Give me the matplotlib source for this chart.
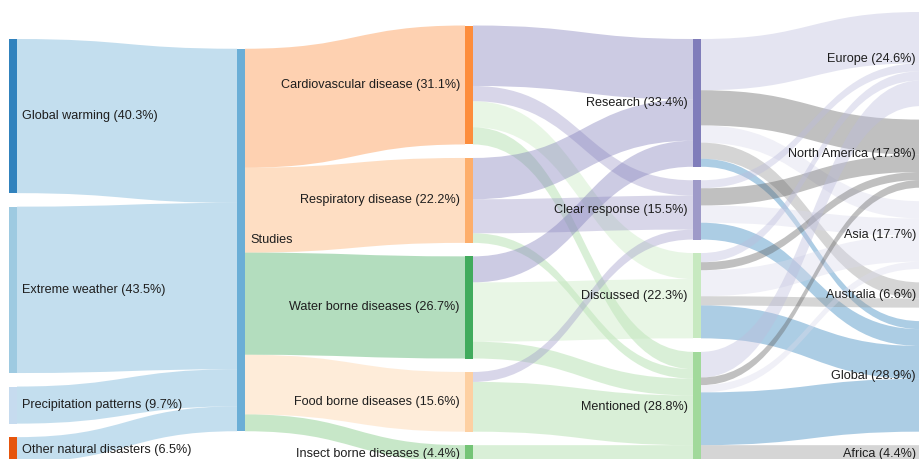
import matplotlib
matplotlib.use("Agg")
import matplotlib.pyplot as plt
from matplotlib.path import Path
from matplotlib.patches import PathPatch, Rectangle

# ---------------- data ----------------
drivers = ["Global warming", "Extreme weather", "Precipitation patterns", "Other natural disasters"]
driver_values = [40.3, 43.5, 9.7, 6.5]

hub = ["Studies"]

diseases = ["Cardiovascular disease", "Respiratory disease", "Water borne diseases",
            "Food borne diseases", "Insect borne diseases"]
disease_values = [31.1, 22.2, 26.7, 15.6, 4.4]

responses = ["Research", "Clear response", "Discussed", "Mentioned"]
# rows: diseases, cols: responses
disease_to_response = [
    [15.8, 4.0, 6.8, 4.5],
    [10.8, 8.9, 0.0, 2.5],
    [6.8, 0.0, 15.5, 4.4],
    [0.0, 2.6, 0.0, 13.0],
    [0.0, 0.0, 0.0, 4.4],
]

regions = ["Europe", "North America", "Asia", "Australia", "Global", "Africa"]
# rows: responses, cols: regions
response_to_region = [
    [13.4, 9.2, 4.5, 4.2, 2.1, 0.0],
    [2.1, 4.5, 4.5, 0.0, 4.4, 0.0],
    [2.4, 2.1, 6.8, 2.4, 8.6, 0.0],
    [6.7, 2.0, 1.9, 0.0, 13.8, 4.4],
]

driver_colors = ["#3182bd", "#9ecae1", "#c6dbef", "#e6550d"]
hub_colors = ["#6baed6"]
disease_colors = ["#fd8d3c", "#fdae6b", "#41ab5d", "#fdd0a2", "#74c476"]
response_colors = ["#807dba", "#9e9ac8", "#c7e9c0", "#a1d99b"]
region_colors = ["#bcbddc", "#636363", "#dadaeb", "#969696", "#3182bd", "#969696"]

# ---------------- layout ----------------
W, H = 920, 459
K = 3.825          # px per percent
PAD = 13.5         # px between nodes
BOTTOM = 462.0     # bottom of node stacks (px)
HUB_CENTER = 240.0
NODE_W = 8
COL_X = [9, 237, 465, 693, 921]
LINK_ALPHA = 0.4
FS = 9.1

fig = plt.figure(figsize=(W / 100, H / 100), dpi=100)
ax = fig.add_axes([0, 0, 1, 1])
ax.set_xlim(0, W)
ax.set_ylim(H, 0)
ax.axis("off")

def stack(values, single_center=None):
    hs = [v * K for v in values]
    if len(values) == 1:
        y0 = single_center - hs[0] / 2
        return [(y0, y0 + hs[0])]
    total = sum(hs) + PAD * (len(values) - 1)
    y = BOTTOM - total
    out = []
    for h in hs:
        out.append((y, y + h))
        y += h + PAD
    return out

columns = [
    (drivers, driver_values, driver_colors),
    (hub, [sum(driver_values)], hub_colors),
    (diseases, disease_values, disease_colors),
    (responses, [sum(r) for r in response_to_region], response_colors),
    (regions, [sum(response_to_region[i][j] for i in range(len(responses)))
               for j in range(len(regions))], region_colors),
]

pos = []
for ci, (names, vals, cols) in enumerate(columns):
    pos.append(stack(vals, HUB_CENTER if len(vals) == 1 else None))

# link matrices between consecutive columns
matrices = [
    [[v] for v in driver_values],
    [disease_values],
    disease_to_response,
    response_to_region,
]

def draw_link(x0, a0, b0, x1, a1, b1, color):
    xm = (x0 + x1) / 2
    verts = [(x0, a0), (xm, a0), (xm, a1), (x1, a1),
             (x1, b1), (xm, b1), (xm, b0), (x0, b0), (x0, a0)]
    codes = [Path.MOVETO, Path.CURVE4, Path.CURVE4, Path.CURVE4,
             Path.LINETO, Path.CURVE4, Path.CURVE4, Path.CURVE4, Path.CLOSEPOLY]
    ax.add_patch(PathPatch(Path(verts, codes), facecolor=color, edgecolor="none",
                           alpha=LINK_ALPHA, zorder=1))

for ci, M in enumerate(matrices):
    src_pos, tgt_pos = pos[ci], pos[ci + 1]
    tgt_colors = columns[ci + 1][2]
    ns, nt = len(M), len(M[0])
    src_off = [p[0] for p in src_pos]
    tgt_off = [p[0] for p in tgt_pos]
    starts = {}
    for i in range(ns):
        for j in range(nt):
            if M[i][j] > 0:
                h = M[i][j] * K
                starts[(i, j)] = [src_off[i], src_off[i] + h]
                src_off[i] += h
    ends = {}
    for j in range(nt):
        for i in range(ns):
            if M[i][j] > 0:
                h = M[i][j] * K
                ends[(i, j)] = [tgt_off[j], tgt_off[j] + h]
                tgt_off[j] += h
    x0 = COL_X[ci] + NODE_W
    x1 = COL_X[ci + 1]
    for (i, j), (a0, b0) in starts.items():
        a1, b1 = ends[(i, j)]
        draw_link(x0, a0, b0, x1, a1, b1, tgt_colors[j])

# nodes and labels
for ci, (names, vals, cols) in enumerate(columns):
    for k, (name, v, c) in enumerate(zip(names, vals, cols)):
        y0, y1 = pos[ci][k]
        ax.add_patch(Rectangle((COL_X[ci], y0), NODE_W, y1 - y0, facecolor=c,
                               edgecolor="none", zorder=2))
        label = name if name == "Studies" else f"{name} ({v:.1f}%)"
        yc = (y0 + y1) / 2
        if ci <= 1:
            ax.text(COL_X[ci] + NODE_W + 5, yc, label, ha="left", va="center",
                    fontsize=FS, family="Liberation Sans", color="#1e1e1e", zorder=3)
        else:
            ax.text(COL_X[ci] - 5, yc, label, ha="right", va="center",
                    fontsize=FS, family="Liberation Sans", color="#1e1e1e", zorder=3)

fig.savefig("out.png", dpi=100)
